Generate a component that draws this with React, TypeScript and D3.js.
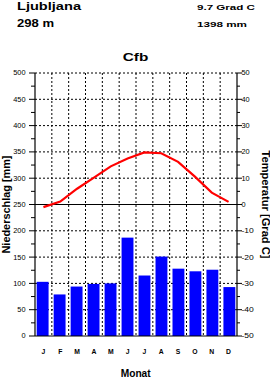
import * as d3 from "d3";

const months = ["J", "F", "M", "A", "M", "J", "J", "A", "S", "O", "N", "D"];
const precip = [103, 79, 94, 99, 100, 187, 115, 151, 128, 123, 126, 93];
const temp = [-1.0, 1.1, 6.0, 10.2, 14.5, 17.5, 19.8, 19.5, 16.2, 10.6, 4.5, 1.0];
const precipTicks = [0, 50, 100, 150, 200, 250, 300, 350, 400, 450, 500];
const tempTicks = [-50, -40, -30, -20, -10, 0, 10, 20, 30, 40, 50];

const W = 270;
const H = 378;
const left = 35;
const right = 237;
const top = 73;
const bottom = 336;
const font = "'Liberation Sans', Arial, sans-serif";

// the reference uses a wide font, so stretch text to its measured width
const T = (props: any) => <text lengthAdjust="spacingAndGlyphs" {...props} />;

export default function App() {
  const x = d3.scaleBand<number>().domain(d3.range(12)).range([left, right]).paddingInner(0.3).paddingOuter(0.1);
  const xb = d3.scaleLinear().domain([0, 12]).range([left, right]);
  const yP = d3.scaleLinear().domain([0, 500]).range([bottom, top]);
  const yT = d3.scaleLinear().domain([-50, 50]).range([bottom, top]);
  const minorP = d3.range(25, 500, 50);
  const minorT = d3.range(-45, 50, 10);

  const line = d3
    .line<number>()
    .x((_, i) => xb(i + 0.5))
    .y((d) => yT(d));

  return (
    <svg width={W} height={H} style={{ position: "absolute", left: 0, top: 0, background: "#fff" }} fontFamily={font}>
      {/* header */}
      <T x={17} y={10.3} fontSize={10.5} fontWeight="bold" textLength={64}>Ljubljana</T>
      <T x={17} y={26.7} fontSize={11.5} fontWeight="bold" textLength={37}>298 m</T>
      <T x={197} y={9.5} fontSize={7.5} fontWeight="bold" textLength={58}>9.7 Grad C</T>
      <T x={197} y={26.7} fontSize={8} fontWeight="bold" textLength={50}>1398 mm</T>
      <T x={122.7} y={61} fontSize={10.7} fontWeight="bold" textLength={25.6}>Cfb</T>

      {/* grid */}
      {precipTicks.filter((t) => t !== 0 && t !== 250).map((t) => (
        <line key={"h" + t} x1={left} x2={right} y1={yP(t)} y2={yP(t)} stroke="#000" strokeDasharray="2,2" />
      ))}
      {d3.range(1, 12).map((i) => (
        <line key={"v" + i} x1={xb(i)} x2={xb(i)} y1={top} y2={bottom} stroke="#000" strokeDasharray="2,2" />
      ))}

      {/* bars */}
      {precip.map((p, i) => (
        <rect key={"b" + i} x={x(i)} y={yP(p)} width={x.bandwidth()} height={bottom - yP(p)} fill="#0000ff" />
      ))}

      {/* zero line and axes */}
      <line x1={left} x2={right} y1={yP(250)} y2={yP(250)} stroke="#000" strokeWidth={1.2} />
      <line x1={left} x2={right} y1={bottom} y2={bottom} stroke="#000" strokeWidth={1.2} />
      <line x1={left} x2={left} y1={top} y2={bottom} stroke="#000" strokeWidth={1.2} />
      <line x1={right} x2={right} y1={top} y2={bottom} stroke="#000" strokeWidth={1.2} />

      {/* temperature line */}
      <path d={line(temp) ?? ""} fill="none" stroke="#ff0000" strokeWidth={2.2} />

      {/* left axis */}
      {precipTicks.map((t) => (
        <g key={"lp" + t}>
          <line x1={left - 6} x2={left} y1={yP(t)} y2={yP(t)} stroke="#000" />
          <T x={left - 9.5} y={yP(t) + 2.4} fontSize={6.8} textAnchor="end" textLength={4.1 * String(t).length}>{t}</T>
        </g>
      ))}
      {minorP.map((t) => (
        <line key={"mp" + t} x1={left - 4} x2={left} y1={yP(t)} y2={yP(t)} stroke="#000" />
      ))}

      {/* right axis */}
      {tempTicks.map((t) => (
        <g key={"rt" + t}>
          <line x1={right} x2={right + 5} y1={yT(t)} y2={yT(t)} stroke="#000" />
          <T x={right + 4.5} y={yT(t) + 2.4} fontSize={6.8} textLength={4.1 * String(t).length}>{t}</T>
        </g>
      ))}
      {minorT.map((t) => (
        <line key={"mt" + t} x1={right} x2={right + 3} y1={yT(t)} y2={yT(t)} stroke="#000" />
      ))}

      {/* month labels */}
      {months.map((m, i) => (
        <text key={"m" + i} x={xb(i + 0.5)} y={354} fontSize={6.8} fontWeight="bold" textAnchor="middle">{m}</text>
      ))}

      {/* axis titles */}
      <T x={120.7} y={376.5} fontSize={10.5} fontWeight="bold" textLength={30}>Monat</T>
      <T transform={`translate(9.5,${yP(250)}) rotate(-90)`} x={-49} fontSize={10} fontWeight="bold" textLength={98}>Niederschlag [mm]</T>
      <T transform={`translate(261.5,${yP(250)}) rotate(90)`} x={-54} fontSize={10} fontWeight="bold" textLength={108}>Temperatur [Grad C]</T>
    </svg>
  );
}
